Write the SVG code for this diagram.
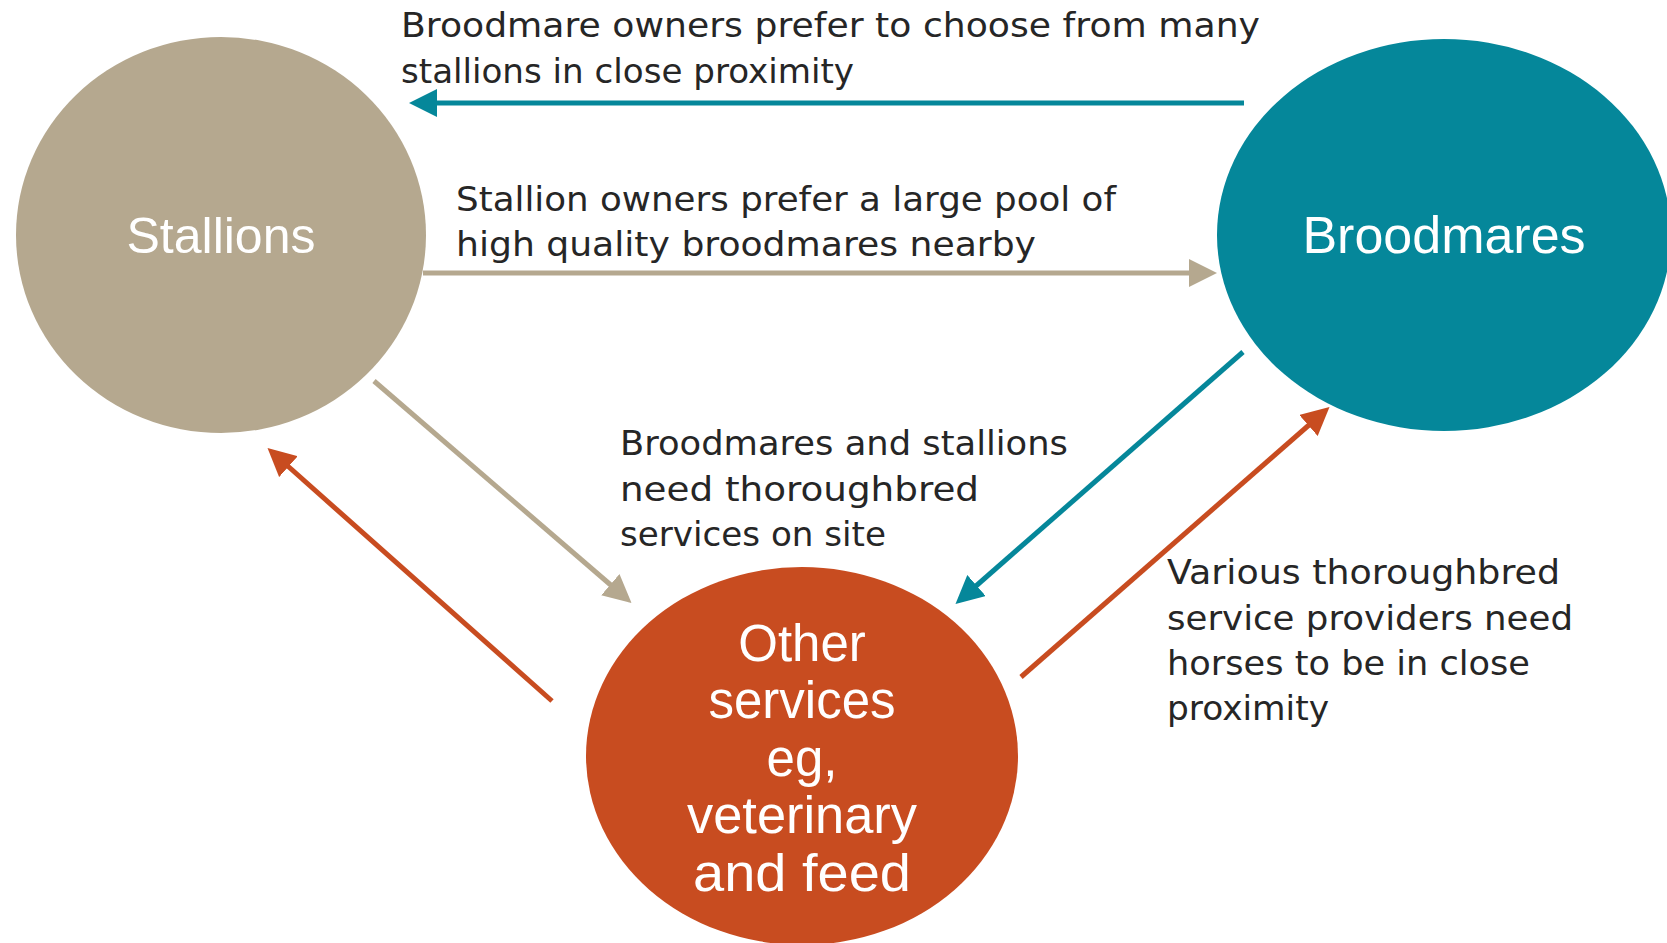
<svg xmlns="http://www.w3.org/2000/svg" width="1667" height="943" viewBox="0 0 1667 943">
<style>
.lbl{font-family:"DejaVu Sans","Liberation Sans",sans-serif;font-size:34px;fill:#262626}
.nd{font-family:"Liberation Sans","DejaVu Sans",sans-serif;fill:#ffffff;text-anchor:middle}
.c{fill:none;stroke-width:5}
</style>
<defs>
<marker id="aTeal" markerUnits="userSpaceOnUse" markerWidth="28" markerHeight="28" refX="22" refY="14" orient="auto"><path d="M0,0 L28,14 L0,28 z" fill="#05879A"/></marker>
<marker id="aTan" markerUnits="userSpaceOnUse" markerWidth="28" markerHeight="28" refX="22" refY="14" orient="auto"><path d="M0,0 L28,14 L0,28 z" fill="#B5A88F"/></marker>
<marker id="aOr" markerUnits="userSpaceOnUse" markerWidth="28" markerHeight="28" refX="22" refY="14" orient="auto"><path d="M0,0 L28,14 L0,28 z" fill="#C84C20"/></marker>
</defs>
<rect width="1667" height="943" fill="#ffffff"/>
<g id="stallions">
<ellipse cx="221" cy="235" rx="205" ry="198" fill="#B5A88F"/>
<text class="nd" x="221" y="253" font-size="50">Stallions</text>
</g>
<g id="broodmares">
<ellipse cx="1444" cy="235" rx="227" ry="196" fill="#05879A"/>
<text class="nd" x="1444" y="253" font-size="52">Broodmares</text>
</g>
<g id="other">
<ellipse cx="802" cy="756" rx="216" ry="189" fill="#C84C20"/>
<text class="nd" font-size="51" x="802" y="661">Other</text>
<text class="nd" font-size="51" x="802" y="718">services</text>
<text class="nd" font-size="51" x="802" y="776">eg,</text>
<text class="nd" font-size="51" x="802" y="833" textLength="230" lengthAdjust="spacingAndGlyphs">veterinary</text>
<text class="nd" font-size="51" x="802" y="891" textLength="218" lengthAdjust="spacingAndGlyphs">and feed</text>
</g>
<g id="connectors">
<line class="c" x1="1244" y1="103" x2="415" y2="103" stroke="#05879A" marker-end="url(#aTeal)"/>
<line class="c" x1="423" y1="273" x2="1211" y2="273" stroke="#B5A88F" marker-end="url(#aTan)"/>
<line class="c" x1="374" y1="381" x2="627" y2="599" stroke="#B5A88F" marker-end="url(#aTan)"/>
<line class="c" x1="552" y1="701" x2="272" y2="452" stroke="#C84C20" marker-end="url(#aOr)"/>
<line class="c" x1="1243" y1="352" x2="960" y2="600" stroke="#05879A" marker-end="url(#aTeal)"/>
<line class="c" x1="1021" y1="677" x2="1325" y2="411" stroke="#C84C20" marker-end="url(#aOr)"/>
</g>
<g id="labels">
<text class="lbl" x="401" y="37" textLength="859" lengthAdjust="spacingAndGlyphs">Broodmare owners prefer to choose from many</text>
<text class="lbl" x="401" y="83" textLength="453" lengthAdjust="spacingAndGlyphs">stallions in close proximity</text>
<text class="lbl" x="456" y="211" textLength="660" lengthAdjust="spacingAndGlyphs">Stallion owners prefer a large pool of</text>
<text class="lbl" x="456" y="256" textLength="580" lengthAdjust="spacingAndGlyphs">high quality broodmares nearby</text>
<text class="lbl" x="620" y="455" textLength="448" lengthAdjust="spacingAndGlyphs">Broodmares and stallions</text>
<text class="lbl" x="620" y="501" textLength="359" lengthAdjust="spacingAndGlyphs">need thoroughbred</text>
<text class="lbl" x="620" y="546" textLength="266" lengthAdjust="spacingAndGlyphs">services on site</text>
<text class="lbl" x="1167" y="584" textLength="393" lengthAdjust="spacingAndGlyphs">Various thoroughbred</text>
<text class="lbl" x="1167" y="630" textLength="406" lengthAdjust="spacingAndGlyphs">service providers need</text>
<text class="lbl" x="1167" y="675" textLength="363" lengthAdjust="spacingAndGlyphs">horses to be in close</text>
<text class="lbl" x="1167" y="720" textLength="162" lengthAdjust="spacingAndGlyphs">proximity</text>
</g>
</svg>
